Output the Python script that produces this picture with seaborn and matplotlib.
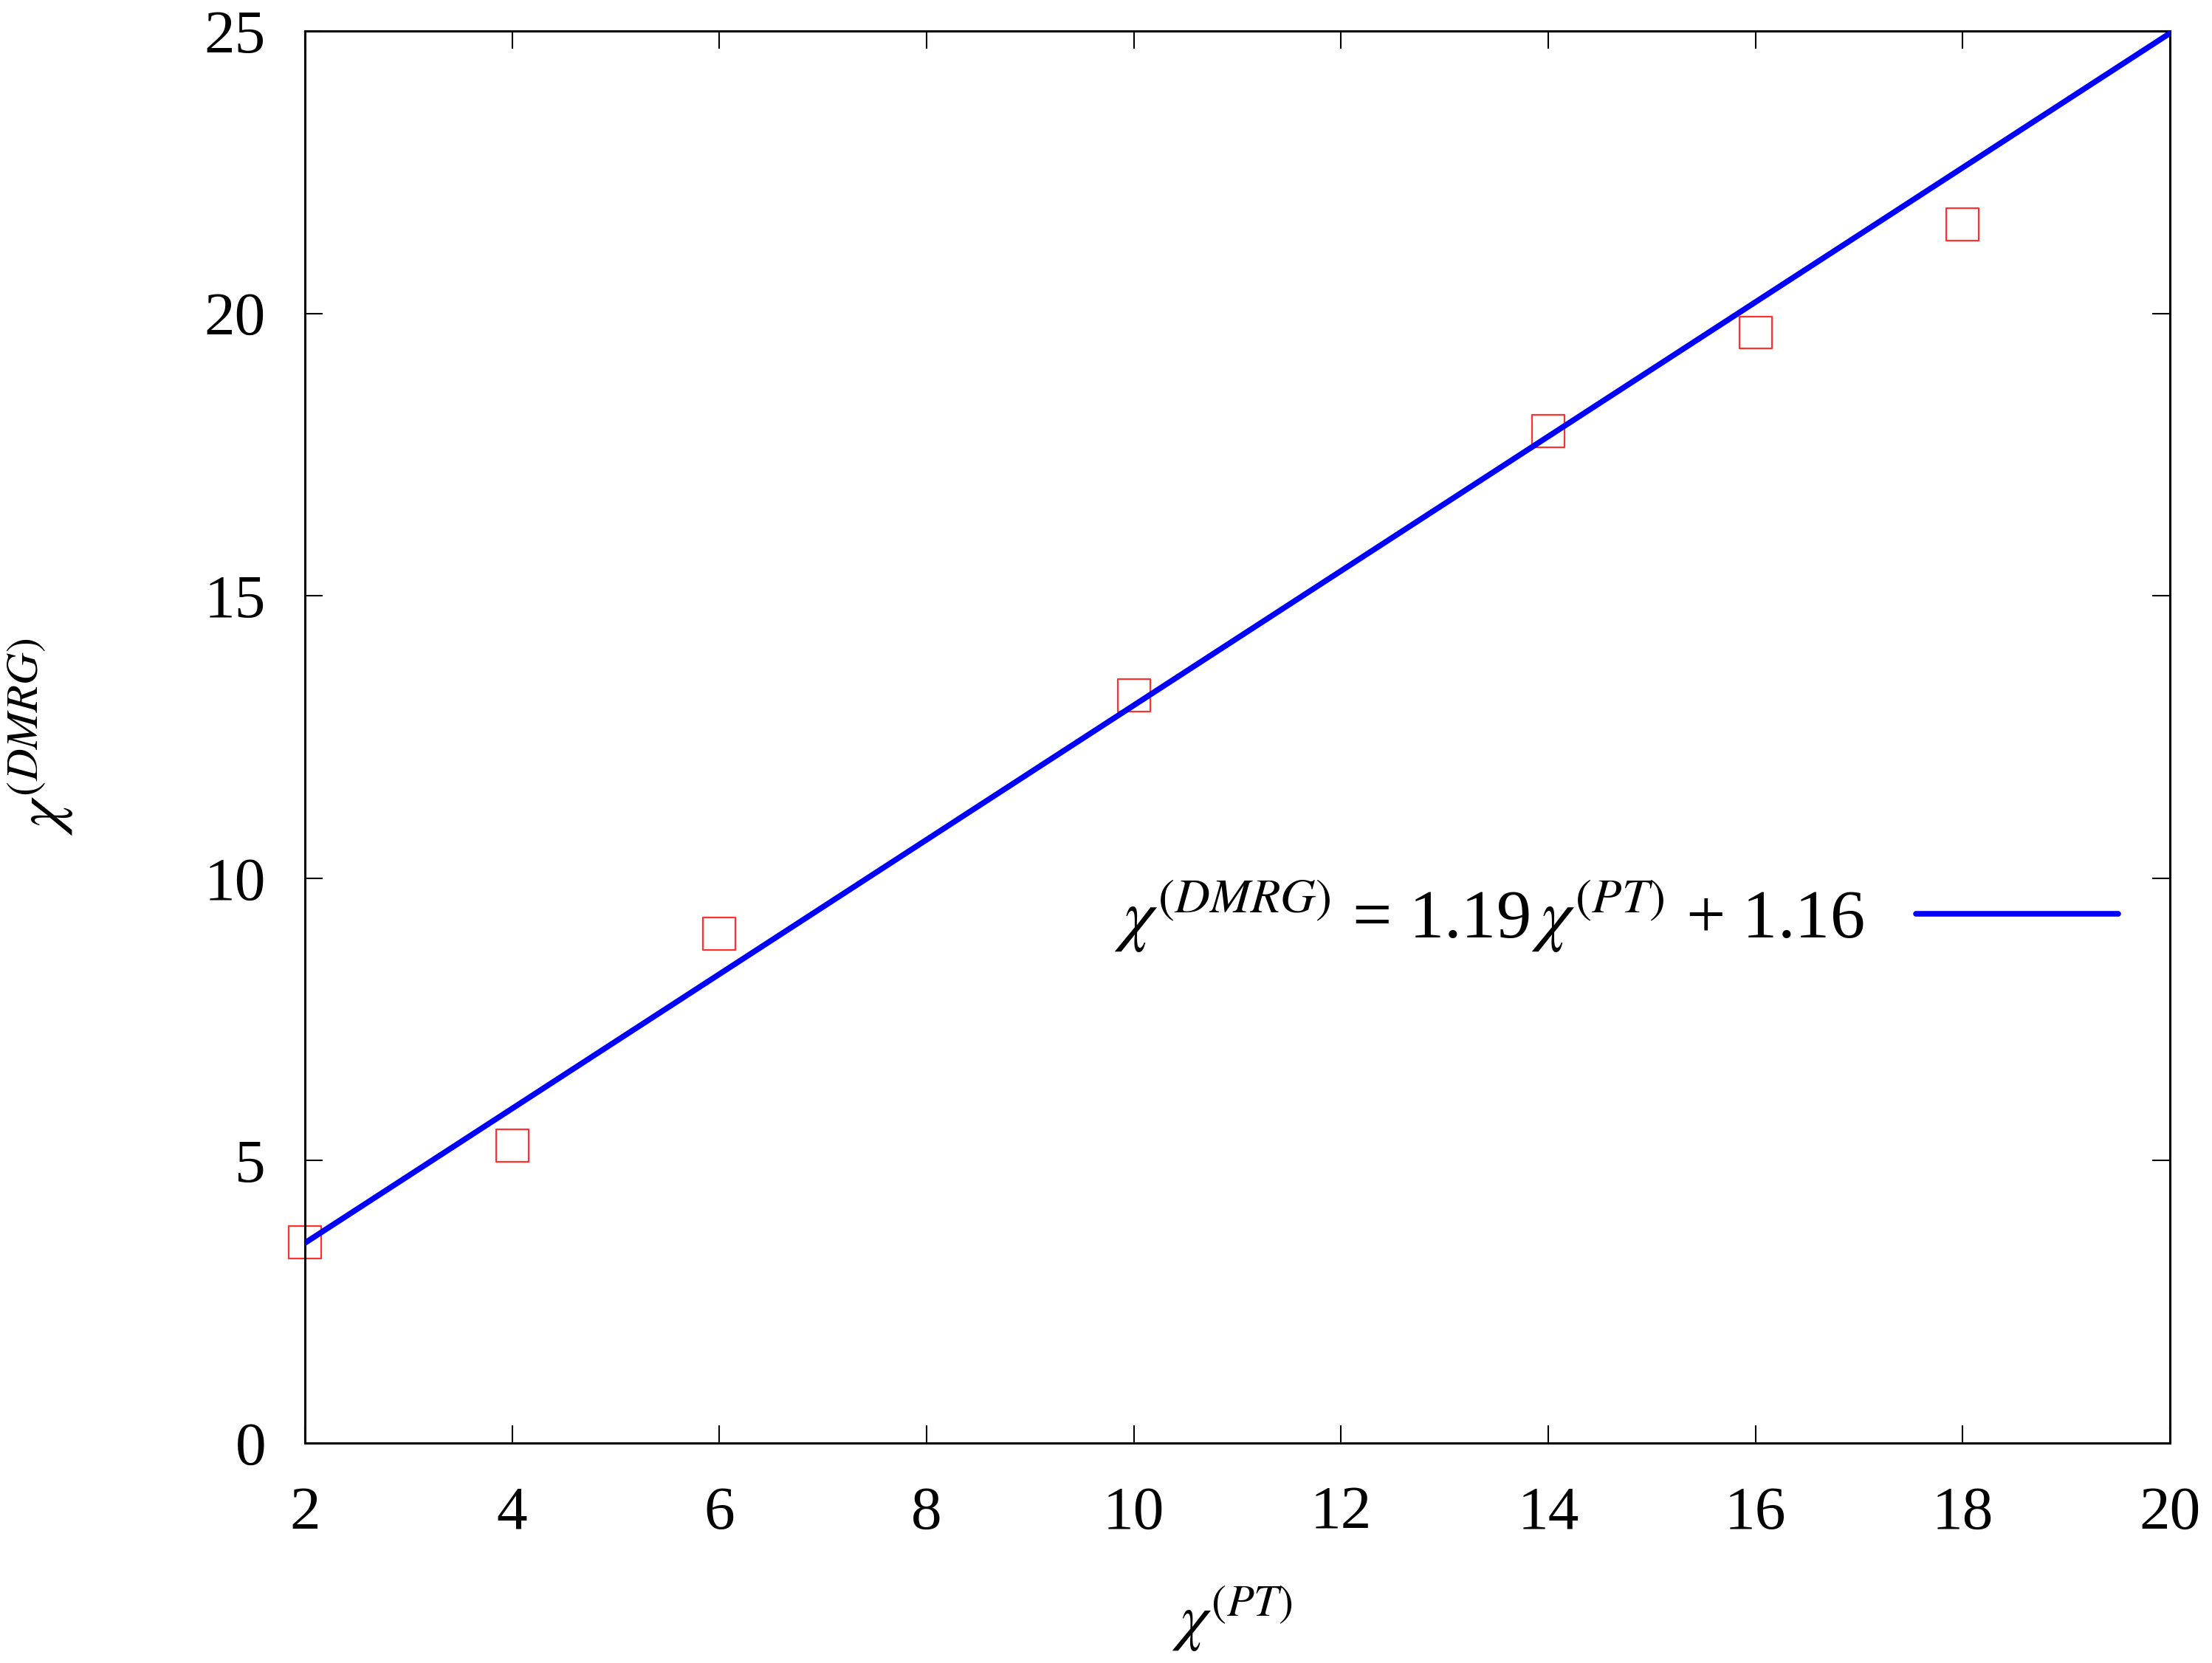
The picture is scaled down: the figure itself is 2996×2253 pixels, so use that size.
import matplotlib
matplotlib.use('Agg')
import matplotlib.pyplot as plt
import pandas as pd
import seaborn as sns

# chi values
chi_pt = [2, 4, 6, 10, 14, 16, 18]
chi_dmrg = [3.55, 5.27, 9.02, 13.24, 17.91, 19.66, 21.58]

# fitted line end points: 1.19 x + 1.16
fit_x = [2, 20]
fit_y = [3.54, 24.96]

x_ticks = [2, 4, 6, 8, 10, 12, 14, 16, 18, 20]
y_ticks = [0, 5, 10, 15, 20, 25]

sns.set_theme(style='ticks', rc={'text.color': 'black', 'axes.labelcolor': 'black',
                                 'xtick.color': 'black', 'ytick.color': 'black'})
plt.rcParams['font.family'] = ['Liberation Serif', 'DejaVu Serif']
plt.rcParams['mathtext.fontset'] = 'stix'

df_points = pd.DataFrame({'pt': chi_pt, 'dmrg': chi_dmrg})
df_fit = pd.DataFrame({'pt': fit_x, 'dmrg': fit_y})

fig = plt.figure(figsize=(29.96, 22.53), dpi=100)
ax = fig.add_axes([0.1378, 0.1323, 0.8432, 0.8491])

sns.scatterplot(data=df_points, x='pt', y='dmrg', marker='s', s=1000,
                facecolor='none', edgecolor='#ff3030', linewidth=1.6,
                ax=ax, zorder=2, clip_on=False)
sns.lineplot(data=df_fit, x='pt', y='dmrg', color='#0000ff', linewidth=5.5,
             ax=ax, zorder=3,
             label=r'$\chi^{(DMRG)}$ = 1.19$\,\chi^{(PT)}$ + 1.16')

ax.set_xlim(2, 20)
ax.set_ylim(0, 25)
ax.set_xticks(x_ticks)
ax.set_yticks(y_ticks)
ax.tick_params(direction='in', length=17, width=1.5, labelsize=60,
               top=True, right=True, colors='black')
ax.tick_params(axis='x', pad=42)
ax.tick_params(axis='y', pad=38)
for sp in ax.spines.values():
    sp.set_linewidth(2.2)
    sp.set_color('black')

ax.set_xlabel(r'$\chi^{(PT)}$', fontsize=62)
ax.set_ylabel(r'$\chi^{(DMRG)}$', fontsize=62)
ax.xaxis.set_label_coords(0.497, -0.10)
ax.yaxis.set_label_coords(-0.123, 0.5)

ax.legend(loc='center right', bbox_to_anchor=(1.006, 0.373), frameon=False,
          markerfirst=False, fontsize=68, handlelength=2.9, handletextpad=0.75)

fig.savefig('out.png', dpi=100, facecolor='white')
